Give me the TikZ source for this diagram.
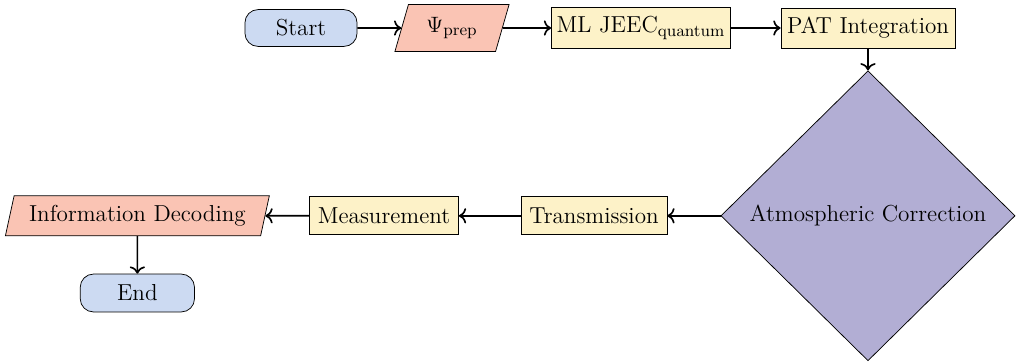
\documentclass[tikz,border=0pt]{standalone}
\usepackage{tikz}
\usetikzlibrary{shapes.geometric,arrows.meta}

\definecolor{startblue}{RGB}{204,218,242}
\definecolor{iosalmon}{RGB}{250,196,180}
\definecolor{procyellow}{RGB}{253,242,200}
\definecolor{decpurple}{RGB}{178,174,212}

\tikzset{
	termbox/.style={draw, rounded corners=2.5mm, fill=startblue, inner sep=0pt},
	iobox/.style={draw, trapezium, trapezium left angle=70, trapezium right angle=110, fill=iosalmon, inner sep=0pt, trapezium stretches=true},
	procbox/.style={draw, rectangle, fill=procyellow, inner sep=0pt},
	decbox/.style={draw, diamond, fill=decpurple, inner sep=0pt},
	flow/.style={line width=0.9pt, -{Computer Modern Rightarrow[scale=1.1]}},
	every node/.style={font=\fontsize{12.5}{15}\selectfont}
}

\begin{document}
\begin{tikzpicture}
				\useasboundingbox (0,0) rectangle (19.304,-6.897);
				
				\node[termbox, minimum width=2.13cm, minimum height=0.70cm] (start) at (5.719,-0.532) {Start};
				\node[iobox, minimum width=2.17cm, minimum height=0.89cm] (prep) at (8.588,-0.532) {$\Psi_{\mathrm{prep}}$};
				\node[procbox, minimum width=3.40cm, minimum height=0.78cm] (jeec) at (12.179,-0.532) {ML JEEC$_{\mathrm{quantum}}$};
				\node[procbox, minimum width=3.31cm, minimum height=0.76cm] (pat) at (16.492,-0.532) {PAT Integration};
				
				\node[decbox, minimum width=5.59cm, minimum height=5.51cm] (atmo) at (16.492,-4.10) {Atmospheric Correction};
				
				\node[procbox, minimum width=2.77cm, minimum height=0.72cm] (trans) at (11.286,-4.10) {Transmission};
				\node[procbox, minimum width=2.83cm, minimum height=0.72cm] (meas) at (7.296,-4.10) {Measurement};
				\node[iobox, minimum width=5.02cm, minimum height=0.76cm] (decode) at (2.61,-4.10) {Information Decoding};
				\node[termbox, minimum width=2.17cm, minimum height=0.72cm] (end) at (2.61,-5.567) {End};
				
				\draw[flow] (start) -- (prep);
				\draw[flow] (prep) -- (jeec);
				\draw[flow] (jeec) -- (pat);
				\draw[flow] (pat) -- (atmo);
				\draw[flow] (atmo) -- (trans);
				\draw[flow] (trans) -- (meas);
				\draw[flow] (meas) -- (decode);
				\draw[flow] (decode) -- (end);
			\end{tikzpicture}
\end{document}
